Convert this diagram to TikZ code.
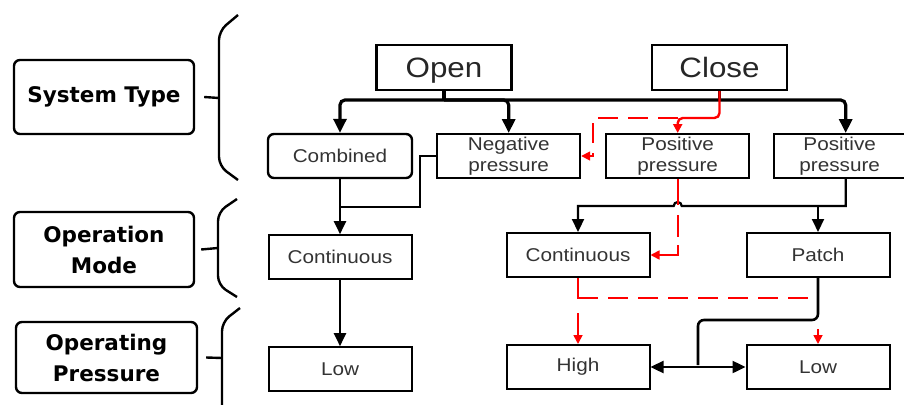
\documentclass[tikz,border=0pt]{standalone}
\usepackage{fontspec}
\setmainfont{Liberation Sans}
\newfontfamily\boxfont[FakeStretch=1.12]{Liberation Sans}
\newfontfamily\catfont{DejaVu Sans}
\usetikzlibrary{arrows.meta,positioning}

\begin{document}
\begin{tikzpicture}[x=1pt, y=-1pt,
  node distance=55pt and 23pt,
  catbox/.style={draw, line width=2.4pt, rounded corners=6pt, align=center, minimum width=180pt,
                 minimum height=74pt, inner sep=0pt, font=\catfont\bfseries\fontsize{21.5}{31}\selectfont},
  headbox/.style={draw, line width=2.2pt, minimum width=135pt, minimum height=45pt, inner sep=0pt,
                  text depth=0pt, font=\boxfont\fontsize{28}{30}\selectfont, text=black!85},
  box/.style={draw, line width=2pt, minimum width=143pt, minimum height=44pt, inner sep=0pt,
              align=center, font=\boxfont\fontsize{18.5}{21}\selectfont, text=black!80},
  brace/.style={line width=2.4pt, rounded corners=9pt},
  arrow/.style={-{Triangle[length=13pt,width=12pt]}, line width=2pt},
  bus/.style={line width=3.2pt, rounded corners=5pt},
  red arrow/.style={red, line width=1.7pt, -{Triangle[length=9pt,width=9pt]}},
  red dash/.style={red, line width=1.7pt, dash pattern=on 20pt off 10pt},
  red dash arrow/.style={red arrow, dash pattern=on 20pt off 10pt}
]
\useasboundingbox (0,0) rectangle (904,404);

\node[catbox] (systype) at (104,97) {System Type};
\node[catbox, minimum height=75pt] (opmode) at (104,249.5) {Operation\\Mode};
\node[catbox, minimum width=181pt, minimum height=71pt] (oppress) at (106.5,357.5) {Operating\\Pressure};

\node[headbox] (open) at (444,67.5) {Open};
\node[headbox] (close) at (719.5,67.5) {Close};

\node[box, rounded corners=6pt, line width=2.4pt, minimum width=144pt] (combined) at (340,156) {Combined};
\node[box, right=of combined] (negp) {Negative\\pressure};
\node[box, right=24pt of negp] (posp) {Positive\\pressure};
\node[box, minimum width=131pt, right=of posp] (posq) {Positive\\pressure};

\node[box, below=of combined] (cont) {Continuous};
\node[box, below=66pt of cont] (low) {Low};
\node[box] (contb) at (578,255) {Continuous};
\node[box, below=66pt of contb] (high) {High};
\node[box, right=95pt of contb] (patch) {Patch};
\node[box, below=66pt of patch] (lowb) {Low};

\coordinate (bus) at (0,100);
\coordinate (redbus) at (0,118);
\coordinate (negturn) at (593,118);
\coordinate (midl) at (420,207);
\coordinate (midr) at (0,206);
\coordinate (redlow) at (0,298);
\coordinate (patchturn) at (0,320);
\coordinate (fork) at (698,365);

\draw[brace] (238,15) -- (219,31) -- (219,166) -- (238,180);
\draw[brace] ([xshift=9pt]systype.east) -- (219,98);
\draw[brace] (237,199) -- (218,212) -- (218,285) -- (237,297);
\draw[brace] ([xshift=6pt]opmode.east) -- (218,248);
\draw[brace] (240,308) -- (222,322) -- (222,410);
\draw[brace] ([xshift=8pt]oppress.east) -- (222,358);

\draw[bus] (open.south) -- (open.south |- bus);
\draw[bus, -{Triangle[length=14pt,width=13pt]}] (open.south |- bus) -| (combined.north);
\draw[bus, -{Triangle[length=14pt,width=13pt]}] (open.south |- bus) -| (negp.north);
\draw[bus, -{Triangle[length=14pt,width=13pt]}] (open.south |- bus) -| ([xshift=6pt]posq.north);
\draw[bus] (close.south) -- (close.south |- bus);
\draw[red arrow, line width=2.4pt, rounded corners=5pt] (close.south) -- (close.south |- redbus) -- (posp.north |- redbus) -- (posp.north);
\draw[red dash arrow] (posp.north |- redbus) -- (negturn) |- (negp.east);

\draw[arrow] (combined) -- (cont);
\draw[line width=2pt] (negp.west) -| (midl) -- (midl -| cont.north);
\draw[arrow] (cont) -- (low);

\draw[arrow, line width=2.2pt] ([xshift=6pt]posq.south) -- ([xshift=6pt]posq.south |- midr)
  -- ([xshift=4pt]posp.south |- midr) arc (0:-180:4) -| (contb.north);
\draw[arrow] (patch.north |- midr) -- (patch.north);
\draw[red dash arrow, dash pattern=on 26pt off 10pt on 22pt off 8pt on 40pt] (posp.south) |- (contb.east);

\draw[red dash arrow, dash pattern=on 21pt off 14pt on 40pt] (contb.south) -- (high.north);
\draw[red dash] (contb.south |- redlow) -- (patch.south |- redlow);
\draw[red arrow, dash pattern=on 0pt off 31pt on 20pt] (patch.south |- redlow) -- (lowb.north);
\draw[line width=2.6pt, rounded corners=6pt] (patch.south) -- (patch.south |- patchturn) -- (fork |- patchturn) -- (fork);
\draw[line width=2.4pt, {Triangle[length=13pt,width=12pt]}-{Triangle[length=13pt,width=12pt]}] (high.east) -- (lowb.west);
\end{tikzpicture}
\end{document}
